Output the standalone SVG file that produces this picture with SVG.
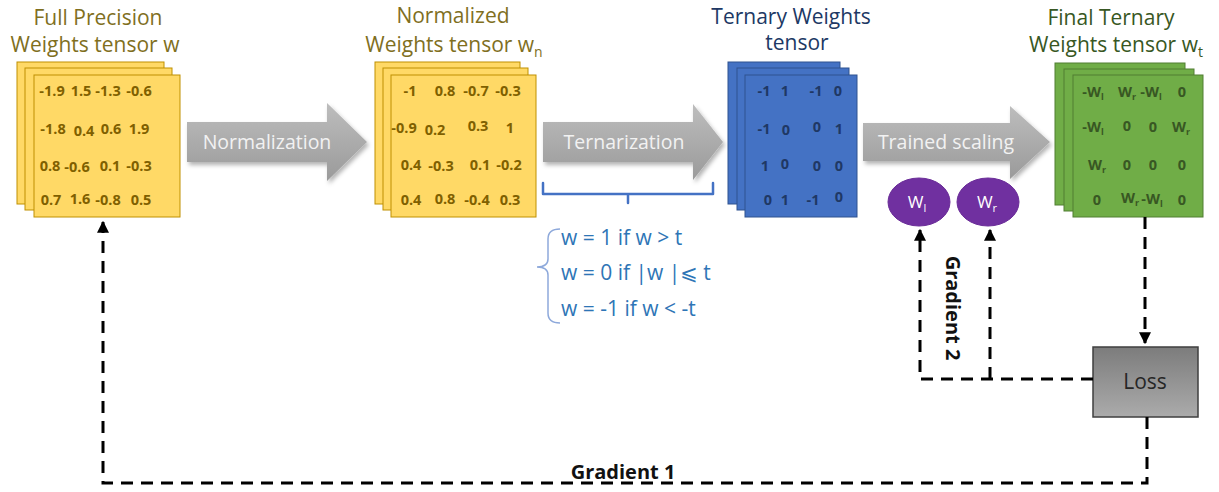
<svg xmlns="http://www.w3.org/2000/svg" width="1219" height="492" viewBox="0 0 1219 492">
  <defs>
    <linearGradient id="arrowFill" x1="0" y1="0" x2="0" y2="1">
      <stop offset="0" stop-color="#BDBDBD"/>
      <stop offset="1" stop-color="#9A9A9A"/>
    </linearGradient>
    <linearGradient id="lossFill" x1="0" y1="0" x2="0" y2="1">
      <stop offset="0" stop-color="#7C7C7C"/>
      <stop offset="1" stop-color="#ABABAB"/>
    </linearGradient>
    <filter id="shadow" x="-10%" y="-20%" width="130%" height="150%">
      <feDropShadow dx="2" dy="3" stdDeviation="2" flood-color="#000" flood-opacity="0.3"/>
    </filter>
    <marker id="head" viewBox="0 0 10 10" refX="9" refY="5" markerWidth="4" markerHeight="4" orient="auto" markerUnits="strokeWidth">
      <path d="M0,0 L10,5 L0,10 z" fill="#000"/>
    </marker>
    <style>
      .title { font-family: "Open Sans", "Liberation Sans", sans-serif; font-size: 21px; text-anchor: middle; }
      .olive { fill: #806F1E; }
      .navy { fill: #203864; }
      .dgreen { fill: #385723; }
      .sheetY { fill: #FFD966; stroke: #BF9000; stroke-width: 1; }
      .sheetB { fill: #4472C4; stroke: #2F528F; stroke-width: 1; }
      .sheetG { fill: #70AD47; stroke: #507E32; stroke-width: 1; }
      .num { font-family: "Open Sans", "Liberation Sans", sans-serif; font-size: 14.5px; font-weight: bold; text-anchor: middle; }
      .nY { fill: #7F6000; }
      .nB { fill: #1F3864; }
      .nG { fill: #385723; }
      .op { fill: url(#arrowFill); filter: url(#shadow); }
      .opText { font-family: "Open Sans", "Liberation Sans", sans-serif; font-size: 19.5px; fill: #F2F2F2; text-anchor: middle; }
      .rule { font-family: "Open Sans", "Liberation Sans", "DejaVu Sans", sans-serif; font-size: 21px; fill: #2E75B6; }
      .scale { fill: #7030A0; stroke: #6A2C98; stroke-width: 1; }
      .scaleText { font-family: "Open Sans", "Liberation Sans", sans-serif; font-size: 17px; fill: #FFFFFF; text-anchor: middle; }
      .dash { fill: none; stroke: #000; stroke-width: 3; stroke-dasharray: 12 8; }
      .grad { font-family: "Open Sans", "Liberation Sans", sans-serif; font-size: 20px; font-weight: bold; fill: #111; text-anchor: middle; }
    </style>
  </defs>

  <rect width="1219" height="492" fill="#FFFFFF"/>

  <!-- Full precision weights -->
  <g id="full-precision">
    <text class="title olive" x="98" y="25">Full Precision</text>
    <text class="title olive" x="95" y="52">Weights tensor w</text>
    <rect class="sheetY" x="17" y="62" width="147" height="142"/>
    <rect class="sheetY" x="25" y="68" width="147" height="142"/>
    <rect class="sheetY" x="34" y="75" width="146" height="142"/>
    <g class="num nY">
      <text x="52" y="96">-1.9</text><text x="81" y="96">1.5</text><text x="108" y="96">-1.3</text><text x="139" y="96">-0.6</text>
      <text x="53" y="134">-1.8</text><text x="84" y="136">0.4</text><text x="111" y="134">0.6</text><text x="139" y="134">1.9</text>
      <text x="50" y="171">0.8</text><text x="77" y="172">-0.6</text><text x="110" y="171">0.1</text><text x="139" y="171">-0.3</text>
      <text x="51" y="205">0.7</text><text x="80" y="204">1.6</text><text x="108" y="205">-0.8</text><text x="141" y="205">0.5</text>
    </g>
  </g>

  <!-- Normalization step -->
  <g id="normalization">
    <polygon class="op" points="187,122 327,122 327,103 367,142 327,181 327,162 187,162"/>
    <text class="opText" x="267" y="149">Normalization</text>
  </g>

  <!-- Normalized weights -->
  <g id="normalized">
    <text class="title olive" x="453" y="23">Normalized</text>
    <text class="title olive" x="454" y="52">Weights tensor w<tspan font-size="14" dy="5">n</tspan></text>
    <rect class="sheetY" x="375" y="62" width="145" height="142"/>
    <rect class="sheetY" x="383" y="68" width="145" height="142"/>
    <rect class="sheetY" x="391" y="75" width="145" height="142"/>
    <g class="num nY">
      <text x="410" y="96">-1</text><text x="445" y="96">0.8</text><text x="476" y="96">-0.7</text><text x="508" y="96">-0.3</text>
      <text x="404" y="133">-0.9</text><text x="435" y="135">0.2</text><text x="478" y="131">0.3</text><text x="510" y="133">1</text>
      <text x="411" y="170">0.4</text><text x="441" y="171">-0.3</text><text x="480" y="170">0.1</text><text x="509" y="170">-0.2</text>
      <text x="411" y="205">0.4</text><text x="445" y="204">0.8</text><text x="477" y="205">-0.4</text><text x="510" y="205">0.3</text>
    </g>
  </g>

  <!-- Ternarization step and its rule -->
  <g id="ternarization">
    <polygon class="op" points="543,122 693,122 693,104 723,142 693,180 693,162 543,162"/>
    <text class="opText" x="624" y="149">Ternarization</text>
    <path d="M543,183 V194 H713 V183 M628,194 V203" fill="none" stroke="#4472C4" stroke-width="2.5" stroke-linejoin="round" stroke-linecap="round"/>
    <path d="M560,229 Q548,229 548,239 L548,259 Q548,267 537,267 Q548,267 548,275 L548,313 Q548,323 560,323" fill="none" stroke="#8EA9DB" stroke-width="1.5"/>
    <text class="rule" x="561" y="245">w = 1 if w &gt; t</text>
    <text class="rule" x="561" y="280">w = 0 if |w |⩽ t</text>
    <text class="rule" x="561" y="316">w = -1 if w &lt; -t</text>
  </g>

  <!-- Ternary weights -->
  <g id="ternary">
    <text class="title navy" x="791" y="24">Ternary Weights</text>
    <text class="title navy" x="797" y="50">tensor</text>
    <rect class="sheetB" x="728" y="62" width="112" height="142"/>
    <rect class="sheetB" x="737" y="68" width="112" height="142"/>
    <rect class="sheetB" x="745" y="75" width="112" height="142"/>
    <g class="num nB">
      <text x="764" y="96">-1</text><text x="785" y="96">1</text><text x="816" y="96">-1</text><text x="838" y="96">0</text>
      <text x="764" y="134">-1</text><text x="786" y="135">0</text><text x="817" y="132">0</text><text x="839" y="134">1</text>
      <text x="765" y="171">1</text><text x="785" y="169">0</text><text x="817" y="171">0</text><text x="839" y="171">0</text>
      <text x="768" y="205">0</text><text x="785" y="205">1</text><text x="813" y="205">-1</text><text x="839" y="202">0</text>
    </g>
  </g>

  <!-- Trained scaling step -->
  <g id="trained-scaling">
    <polygon class="op" points="863,123 1010,123 1010,106 1050,142 1010,179 1010,161 863,161"/>
    <text class="opText" x="946" y="149">Trained scaling</text>
  </g>

  <!-- Scaling factors -->
  <g id="wl">
    <ellipse class="scale" cx="919" cy="202" rx="31" ry="24"/>
    <text class="scaleText" x="917" y="208">W<tspan font-size="11" dy="4">l</tspan></text>
  </g>
  <g id="wr">
    <ellipse class="scale" cx="988" cy="202" rx="31" ry="24"/>
    <text class="scaleText" x="987" y="208">W<tspan font-size="11" dy="4">r</tspan></text>
  </g>

  <!-- Final ternary weights -->
  <g id="final-ternary">
    <text class="title dgreen" x="1111" y="25">Final Ternary</text>
    <text class="title dgreen" x="1116" y="52">Weights tensor w<tspan font-size="14" dy="5">t</tspan></text>
    <rect class="sheetG" x="1055" y="63" width="130" height="142"/>
    <rect class="sheetG" x="1064" y="69" width="130" height="142"/>
    <rect class="sheetG" x="1073" y="75" width="130" height="142"/>
    <g class="num nG">
      <text x="1093" y="97">-W<tspan font-size="9" dy="3">l</tspan></text>
      <text x="1127" y="97">W<tspan font-size="9" dy="3">r</tspan></text>
      <text x="1151" y="97">-W<tspan font-size="9" dy="3">l</tspan></text>
      <text x="1182" y="97">0</text>
      <text x="1093" y="132">-W<tspan font-size="9" dy="3">l</tspan></text>
      <text x="1127" y="131">0</text>
      <text x="1153" y="132">0</text>
      <text x="1181" y="132">W<tspan font-size="9" dy="3">r</tspan></text>
      <text x="1097" y="170">W<tspan font-size="9" dy="3">r</tspan></text>
      <text x="1127" y="170">0</text>
      <text x="1153" y="170">0</text>
      <text x="1182" y="170">0</text>
      <text x="1097" y="205">0</text>
      <text x="1130" y="203">W<tspan font-size="9" dy="3">r</tspan></text>
      <text x="1152" y="204">-W<tspan font-size="9" dy="3">l</tspan></text>
      <text x="1182" y="205">0</text>
    </g>
  </g>

  <!-- Loss -->
  <g id="loss">
    <rect x="1093" y="347" width="105" height="70" fill="url(#lossFill)" stroke="#3F3F3F" stroke-width="1.5"/>
    <text x="1145" y="389" font-family="'Open Sans', 'Liberation Sans', sans-serif" font-size="21" fill="#262626" text-anchor="middle">Loss</text>
  </g>

  <!-- Connectors -->
  <g id="connectors">
    <path class="dash" d="M1145,217 V343" marker-end="url(#head)"/>
    <path class="dash" d="M1093,379 H920 V230" marker-end="url(#head)"/>
    <path class="dash" d="M990,379 V230" marker-end="url(#head)"/>
    <path class="dash" d="M1147,417 V483 H103 V222" marker-end="url(#head)"/>
    <text class="grad" x="946" y="308" transform="rotate(90 946 308)">Gradient 2</text>
    <text class="grad" x="623" y="479">Gradient 1</text>
  </g>
</svg>
